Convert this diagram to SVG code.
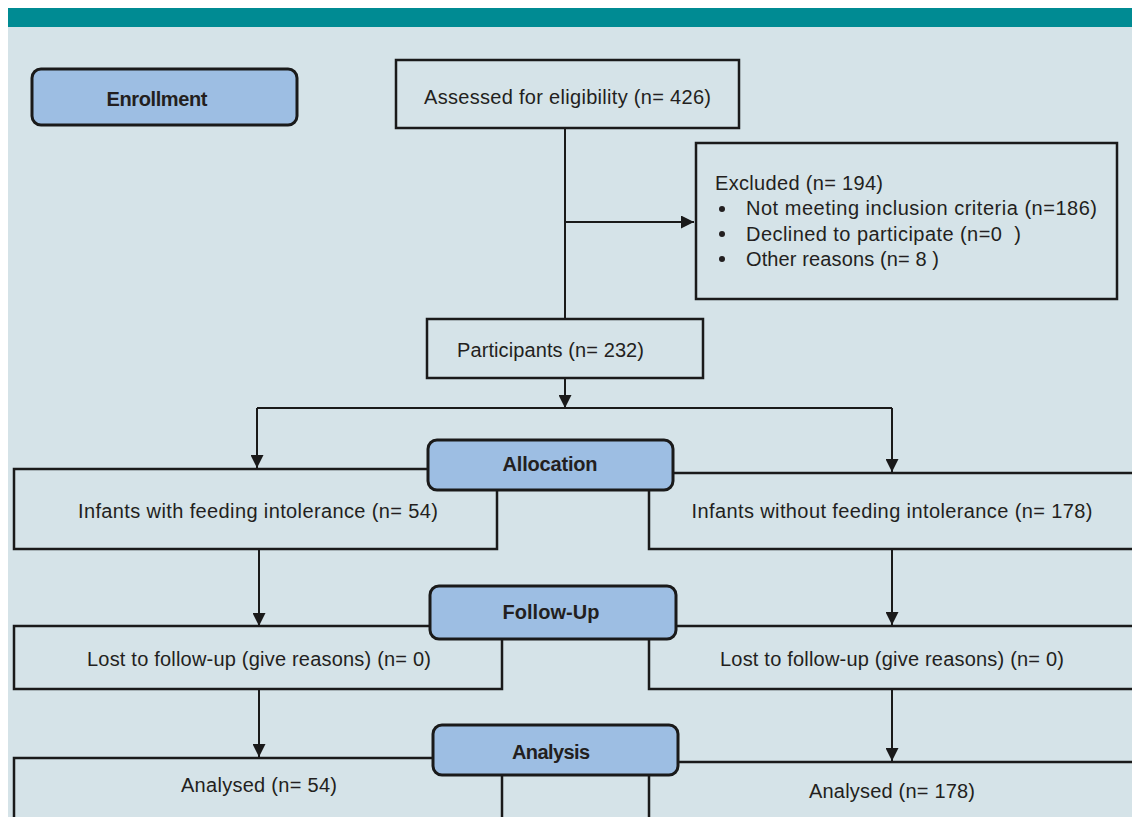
<svg xmlns="http://www.w3.org/2000/svg" width="1132" height="817" viewBox="0 0 1132 817">
<style>
.box{fill:#d5e3e8;stroke:#1a1a1a;stroke-width:2.5}
.stage{fill:#9dbee3;stroke:#1a1a1a;stroke-width:3}
.t{font-family:"Liberation Sans",Arial,sans-serif;font-size:20px;fill:#231f20}
.b{font-family:"Liberation Sans",Arial,sans-serif;font-size:20px;font-weight:bold;fill:#231f20;text-anchor:middle}
.c{text-anchor:middle}
.pre{white-space:pre}
.ln{fill:none;stroke:#1a1a1a;stroke-width:2}
</style>
<defs>
<marker id="ah" markerUnits="userSpaceOnUse" markerWidth="13" markerHeight="13" refX="13" refY="6.5" orient="auto">
<path d="M0,0 L13,6.5 L0,13 z" fill="#1a1a1a"/>
</marker>
</defs>
<rect x="0" y="0" width="1132" height="817" fill="#ffffff"/>
<rect x="8" y="8" width="1124" height="809" fill="#d5e3e8"/>
<rect x="8" y="8" width="1124" height="19" fill="#008b93"/>

<g id="connectors">
<path class="ln" d="M565,128 V319"/>
<path class="ln" d="M565,222 H694" marker-end="url(#ah)"/>
<path class="ln" d="M565,378 V408" marker-end="url(#ah)"/>
<path class="ln" d="M257,408 H892"/>
<path class="ln" d="M257,408 V468" marker-end="url(#ah)"/>
<path class="ln" d="M892,408 V472" marker-end="url(#ah)"/>
<path class="ln" d="M259,549 V626" marker-end="url(#ah)"/>
<path class="ln" d="M892,549 V625" marker-end="url(#ah)"/>
<path class="ln" d="M259,689 V757" marker-end="url(#ah)"/>
<path class="ln" d="M892,689 V761" marker-end="url(#ah)"/>
</g>

<g id="enrollment">
<rect class="stage" x="32" y="69" width="265" height="56" rx="9"/>
<text class="b" x="157" y="106" textLength="101">Enrollment</text>
</g>

<g id="assessed">
<rect class="box" x="396" y="60" width="343" height="68"/>
<text class="t" x="424" y="104" textLength="287">Assessed for eligibility (n= 426)</text>
</g>

<g id="excluded">
<rect class="box" x="696" y="143" width="421" height="156"/>
<text class="t" x="715" y="190" textLength="168">Excluded (n= 194)</text>
<circle cx="722" cy="209" r="3" fill="#231f20"/>
<text class="t" x="746" y="215" textLength="351">Not meeting inclusion criteria (n=186)</text>
<circle cx="722" cy="234" r="3" fill="#231f20"/>
<text class="t pre" x="746" y="241" textLength="275">Declined to participate (n=0  )</text>
<circle cx="722" cy="259" r="3" fill="#231f20"/>
<text class="t" x="746" y="266" textLength="193">Other reasons (n= 8 )</text>
</g>

<g id="participants">
<rect class="box" x="427" y="319" width="276" height="59"/>
<text class="t" x="457" y="357" textLength="187">Participants (n= 232)</text>
</g>

<g id="with-fi">
<rect class="box" x="14" y="469" width="483" height="80"/>
<text class="t c" x="258" y="518" textLength="360">Infants with feeding intolerance (n= 54)</text>
</g>
<g id="without-fi">
<rect class="box" x="649" y="473" width="500" height="76"/>
<text class="t c" x="892" y="518" textLength="401">Infants without feeding intolerance (n= 178)</text>
</g>
<g id="allocation">
<rect class="stage" x="428" y="440" width="245" height="50" rx="9"/>
<text class="b" x="550" y="471" textLength="95">Allocation</text>
</g>

<g id="lost-left">
<rect class="box" x="14" y="626" width="488" height="63"/>
<text class="t c" x="259" y="666" textLength="344">Lost to follow-up (give reasons) (n= 0)</text>
</g>
<g id="lost-right">
<rect class="box" x="649" y="626" width="500" height="63"/>
<text class="t c" x="892" y="666" textLength="344">Lost to follow-up (give reasons) (n= 0)</text>
</g>
<g id="followup">
<rect class="stage" x="430" y="586" width="246" height="53" rx="9"/>
<text class="b" x="551" y="619" textLength="97">Follow-Up</text>
</g>

<g id="analysed-left">
<rect class="box" x="14" y="758" width="488" height="80"/>
<text class="t c" x="259" y="792" textLength="156">Analysed (n= 54)</text>
</g>
<g id="analysed-right">
<rect class="box" x="649" y="762" width="500" height="80"/>
<text class="t c" x="892" y="798" textLength="166">Analysed (n= 178)</text>
</g>
<g id="analysis">
<rect class="stage" x="433" y="725" width="245" height="50" rx="9"/>
<text class="b" x="551" y="759" textLength="78">Analysis</text>
</g>
</svg>
